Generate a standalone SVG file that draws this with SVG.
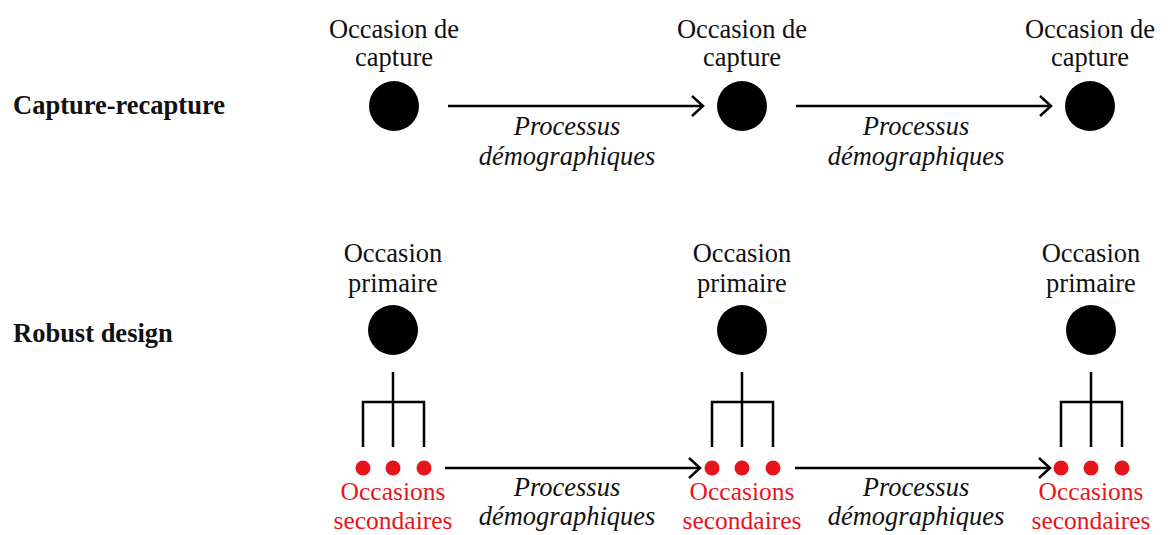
<svg xmlns="http://www.w3.org/2000/svg" width="1170" height="535" viewBox="0 0 1170 535" font-family="Liberation Serif, Tinos, Times New Roman, DejaVu Serif, serif">
<style>
text{font-family:'Liberation Serif',Tinos,'Times New Roman','DejaVu Serif',serif;font-size:26.5px;fill:#111;text-anchor:middle}
.h{font-weight:bold;text-anchor:start;font-size:26.5px}
.i{font-style:italic}
.r{fill:#e8141c;font-size:25.5px}
.ln{stroke:#000;stroke-width:2.5;fill:none}
.big{fill:#000}
.dot{fill:#e8141c}
</style>
<defs>
<marker id="ah" markerWidth="14" markerHeight="22" refX="12" refY="11" orient="auto" markerUnits="userSpaceOnUse">
<path d="M1,1 L12,11 L1,21" fill="none" stroke="#000" stroke-width="2.5"/>
</marker>
</defs>
<rect width="1170" height="535" fill="#fff"/>
<text class="h" x="13" y="114">Capture-recapture</text>
<text class="h" x="13" y="342">Robust design</text>

<g id="cr1"><text x="394" y="38">Occasion de</text><text x="394" y="66">capture</text><circle class="big" cx="394" cy="106" r="25"/></g>
<g id="cr2"><text x="742" y="38">Occasion de</text><text x="742" y="66">capture</text><circle class="big" cx="742" cy="106" r="25"/></g>
<g id="cr3"><text x="1090" y="38">Occasion de</text><text x="1090" y="66">capture</text><circle class="big" cx="1090" cy="106" r="25"/></g>

<g id="rd1"><text x="393" y="262">Occasion</text><text x="393" y="292">primaire</text><circle class="big" cx="393" cy="330" r="25"/>
<path class="ln" d="M393,372V447M363,447V402H424V447"/>
<circle class="dot" cx="363" cy="468" r="7.5"/><circle class="dot" cx="393" cy="468" r="7.5"/><circle class="dot" cx="424" cy="468" r="7.5"/>
<text class="r" x="393" y="500">Occasions</text><text class="r" x="393" y="529">secondaires</text></g>
<g id="rd2"><text x="742" y="262">Occasion</text><text x="742" y="292">primaire</text><circle class="big" cx="742" cy="330" r="25"/>
<path class="ln" d="M742,372V447M712,447V402H773V447"/>
<circle class="dot" cx="712" cy="468" r="7.5"/><circle class="dot" cx="742" cy="468" r="7.5"/><circle class="dot" cx="773" cy="468" r="7.5"/>
<text class="r" x="742" y="500">Occasions</text><text class="r" x="742" y="529">secondaires</text></g>
<g id="rd3"><text x="1091" y="262">Occasion</text><text x="1091" y="292">primaire</text><circle class="big" cx="1091" cy="330" r="25"/>
<path class="ln" d="M1091,372V447M1061,447V402H1122V447"/>
<circle class="dot" cx="1061" cy="468" r="7.5"/><circle class="dot" cx="1091" cy="468" r="7.5"/><circle class="dot" cx="1122" cy="468" r="7.5"/>
<text class="r" x="1091" y="500">Occasions</text><text class="r" x="1091" y="529">secondaires</text></g>

<g id="connectors">
<line class="ln" x1="448" y1="106" x2="703" y2="106" marker-end="url(#ah)"/>
<line class="ln" x1="796" y1="106" x2="1051" y2="106" marker-end="url(#ah)"/>
<line class="ln" x1="445" y1="468" x2="700" y2="468" marker-end="url(#ah)"/>
<line class="ln" x1="795" y1="468" x2="1050" y2="468" marker-end="url(#ah)"/>
<text class="i" x="567" y="135">Processus</text><text class="i" x="567" y="165">démographiques</text>
<text class="i" x="916" y="135">Processus</text><text class="i" x="916" y="165">démographiques</text>
<text class="i" x="567" y="496">Processus</text><text class="i" x="567" y="525">démographiques</text>
<text class="i" x="916" y="496">Processus</text><text class="i" x="916" y="525">démographiques</text>
</g>
</svg>
